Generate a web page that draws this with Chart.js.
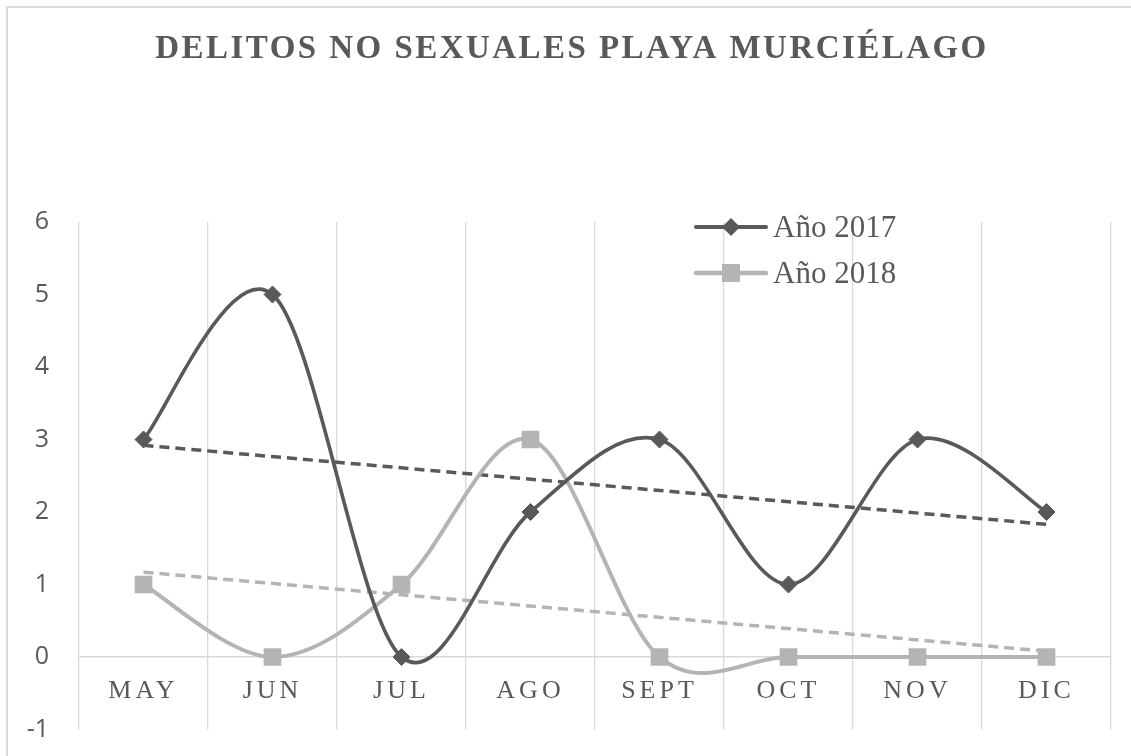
<!DOCTYPE html>
<html>
<head>
<meta charset="utf-8">
<title>Delitos no sexuales Playa Murciélago</title>
<script src="https://cdn.jsdelivr.net/npm/chart.js@4.4.1/dist/chart.umd.min.js"></script>
<style>
    html, body { margin: 0; padding: 0; background: #fff; overflow: hidden; }
    /* marco del gráfico (como en Excel) */
    #marco { position: absolute; left: 6px; top: 6px; width: 1200px; height: 800px; border: 2px solid #d9d9d9; }
    #grafico { position: absolute; left: 0; top: 0; }
</style>
</head>
<body>
<div id="marco"></div>
<canvas id="grafico" width="1131" height="756"></canvas>
<script>
// datos del gráfico
const meses = ['MAY', 'JUN', 'JUL', 'AGO', 'SEPT', 'OCT', 'NOV', 'DIC'];
const anio2017 = [3, 5, 0, 2, 3, 1, 3, 2];
const anio2018 = [1, 0, 1, 3, 0, 0, 0, 0];
// líneas de tendencia: solo los extremos
const tendencia2017 = [2.92, null, null, null, null, null, null, 1.83];
const tendencia2018 = [1.17, null, null, null, null, null, null, 0.08];
const titulo = 'DELITOS NO SEXUALES PLAYA MURCIÉLAGO';
const nombresSeries = ['Año 2017', 'Año 2018'];

const oscuro = '#595959';
const claro = '#b4b4b4';
const textoGris = '#595959';

// suavizado tipo Excel: control = punto +/- (siguiente - anterior) / 6
const suavizadoExcel = {
    id: 'suavizadoExcel',
    beforeDatasetDraw(chart, args) {
        const meta = args.meta;
        if (!meta.dataset || !meta.dataset.options.tension || meta.dataset.options.spanGaps) return;
        meta.dataset.updateControlPoints(chart.chartArea, 'x');
        const pts = meta.data;
        for (let i = 0; i < pts.length; i++) {
            const prev = pts[Math.max(i - 1, 0)];
            const next = pts[Math.min(i + 1, pts.length - 1)];
            const dx = (next.x - prev.x) / 6;
            const dy = (next.y - prev.y) / 6;
            pts[i].cp1x = pts[i].x - dx;
            pts[i].cp1y = pts[i].y - dy;
            pts[i].cp2x = pts[i].x + dx;
            pts[i].cp2y = pts[i].y + dy;
        }
    }
};

// título y leyenda dibujados a mano
const tituloYLeyenda = {
    id: 'tituloYLeyenda',
    afterDatasetsDraw(chart) {
        // espaciado de letras para las etiquetas del eje x (se dibujan después)
        chart.ctx.letterSpacing = '4px';
    },
    afterDraw(chart) {
        const ctx = chart.ctx;
        const area = chart.chartArea;
        ctx.letterSpacing = '0px';
        ctx.save();

        // título
        ctx.letterSpacing = '2.45px';
        ctx.fillStyle = textoGris;
        ctx.font = 'bold 33px "Liberation Serif", "Times New Roman", serif';
        ctx.textAlign = 'center';
        ctx.textBaseline = 'alphabetic';
        ctx.fillText(titulo, 572, 58);
        ctx.letterSpacing = '0px';

        // leyenda
        const x0 = area.right - 415;
        const filas = [area.top + 5, area.top + 51];
        const colores = [oscuro, claro];
        const anchos = [4, 4.5];
        filas.forEach((y, i) => {
            ctx.strokeStyle = colores[i];
            ctx.lineWidth = anchos[i];
            ctx.lineCap = 'round';
            ctx.beginPath();
            ctx.moveTo(x0, y);
            ctx.lineTo(x0 + 70, y);
            ctx.stroke();
            ctx.fillStyle = colores[i];
            const cx = x0 + 35;
            ctx.beginPath();
            if (i === 0) {
                ctx.moveTo(cx - 9, y);
                ctx.lineTo(cx, y - 9);
                ctx.lineTo(cx + 9, y);
                ctx.lineTo(cx, y + 9);
            } else {
                ctx.rect(cx - 9, y - 9, 18, 18);
            }
            ctx.closePath();
            ctx.fill();
            ctx.fillStyle = textoGris;
            ctx.font = '31px "Liberation Serif", "Times New Roman", serif';
            ctx.textAlign = 'left';
            ctx.fillText(nombresSeries[i], x0 + 77, y + 10);
        });
        ctx.restore();
    }
};

const ctx = document.getElementById('grafico').getContext('2d');
const grafico = new Chart(ctx, {
    type: 'line',
    data: {
        labels: meses,
        datasets: [
            {
                label: nombresSeries[0],
                data: anio2017,
                borderColor: oscuro,
                backgroundColor: oscuro,
                borderWidth: 3.6,
                tension: 0.4,
                pointStyle: 'rectRot',
                pointRadius: 8.5,
                pointBorderWidth: 1,
                pointBackgroundColor: oscuro,
                pointBorderColor: oscuro
            },
            {
                label: nombresSeries[1],
                data: anio2018,
                borderColor: claro,
                backgroundColor: claro,
                borderWidth: 4,
                tension: 0.4,
                pointStyle: 'rect',
                pointRadius: 12.5,
                pointBorderWidth: 0,
                pointBackgroundColor: claro,
                pointBorderColor: claro
            },
            {
                label: 'Tendencia 2017',
                data: tendencia2017,
                spanGaps: true,
                borderColor: oscuro,
                borderWidth: 3.5,
                borderDash: [10, 6],
                pointRadius: 0,
                tension: 0
            },
            {
                label: 'Tendencia 2018',
                data: tendencia2018,
                spanGaps: true,
                borderColor: claro,
                borderWidth: 3.5,
                borderDash: [10, 6],
                pointRadius: 0,
                tension: 0
            }
        ]
    },
    options: {
        responsive: false,
        animation: false,
        layout: {
            padding: { top: 222, right: 20, bottom: 26.5, left: 0 }
        },
        plugins: {
            legend: { display: false },
            title: { display: false },
            tooltip: { enabled: false }
        },
        scales: {
            x: {
                position: { y: 0 },
                offset: true,
                grid: {
                    display: true,
                    offset: true,
                    color: '#d9d9d9',
                    lineWidth: 1.3,
                    drawTicks: false
                },
                border: { display: true, color: '#d9d9d9', width: 1.5 },
                ticks: {
                    z: 1,
                    color: textoGris,
                    font: { family: '"Liberation Serif", "Times New Roman", serif', size: 26 },
                    padding: 19,
                    autoSkip: false,
                    maxRotation: 0
                },
                // el eje cruza en 0: no debe quitar espacio abajo
                afterFit(scale) { scale.height = 0; }
            },
            y: {
                min: -1,
                max: 6,
                grid: { display: false, drawTicks: false },
                border: { display: false },
                ticks: {
                    stepSize: 1,
                    color: textoGris,
                    font: { family: '"Open Sans", "Noto Sans", sans-serif', size: 25 },
                    padding: 30
                },
                afterFit(scale) {
                    scale.width = 79;
                    scale.paddingTop = 0;
                    scale.paddingBottom = 0;
                }
            }
        }
    },
    plugins: [suavizadoExcel, tituloYLeyenda]
});
</script>
</body>
</html>
